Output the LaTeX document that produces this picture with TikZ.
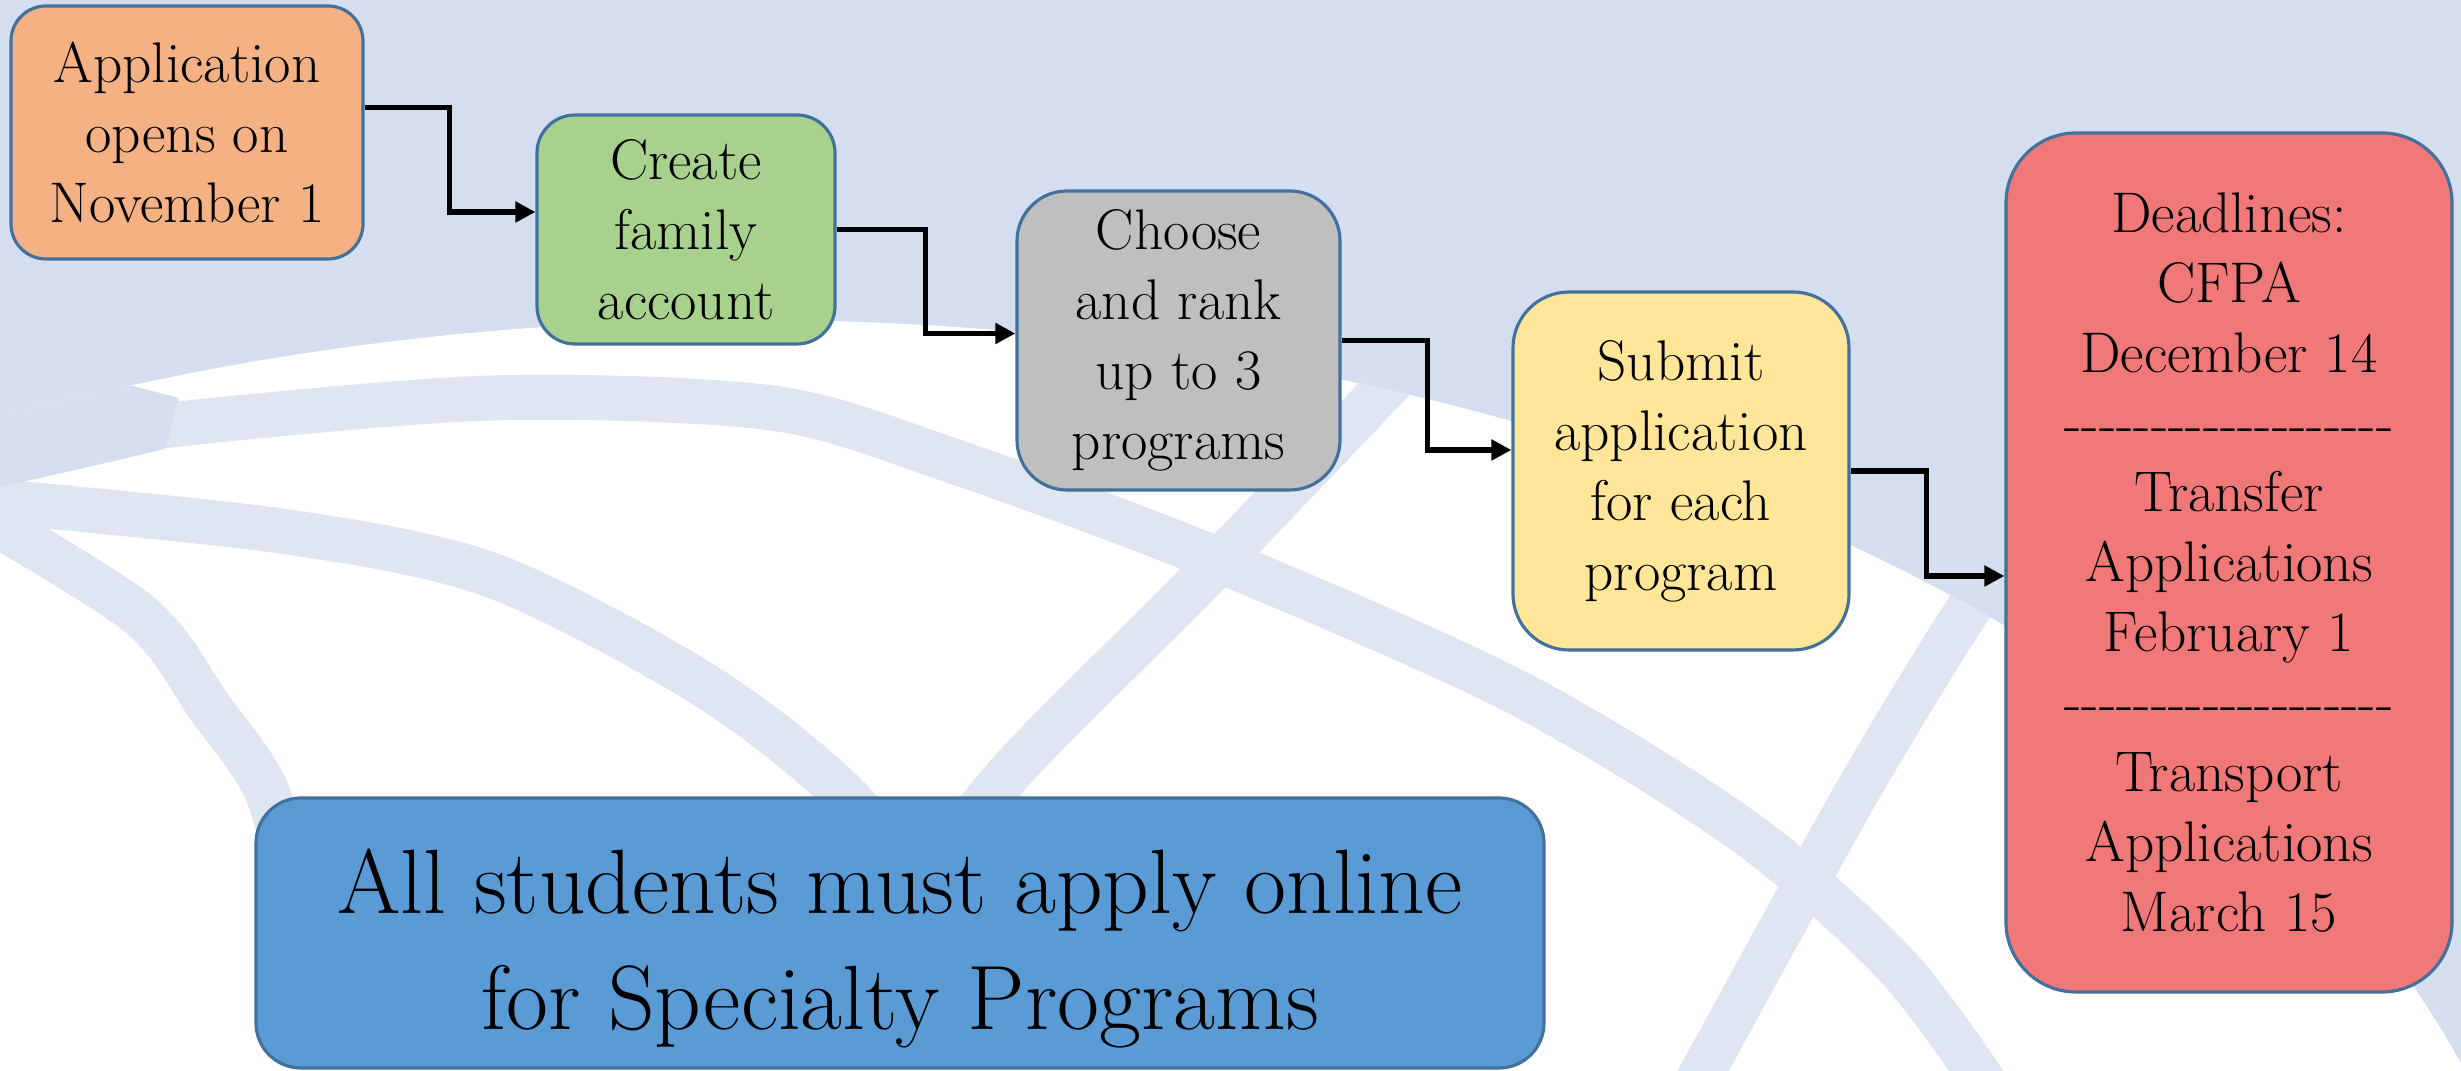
\documentclass[tikz,border=0pt]{standalone}
\usepackage{fontspec}
\usepackage{tikz}
\usetikzlibrary{arrows.meta, positioning, calc}

% Colours of the slide
\definecolor{bgcolor}{RGB}{213,222,238}
\definecolor{bandcolor}{RGB}{223,230,242}
\definecolor{edgecolor}{RGB}{65,113,156}
\definecolor{opencolor}{RGB}{244,177,131}
\definecolor{accountcolor}{RGB}{169,209,142}
\definecolor{choosecolor}{RGB}{191,191,191}
\definecolor{submitcolor}{RGB}{255,230,153}
\definecolor{deadlinecolor}{RGB}{240,120,120}
\definecolor{onlinecolor}{RGB}{91,155,213}

% row of single hyphens (no en-dash ligature)
\newcommand{\dashrow}{-{}-{}-{}-{}-{}-{}-{}-{}-{}-{}-{}-{}-{}-{}-{}-{}-{}-{}-{}}

\begin{document}
\begin{tikzpicture}[
    stage/.style={rectangle, draw=edgecolor, line width=0.9pt, align=center, inner sep=0pt, font=\fontsize{16.3}{19.9}\selectfont},
    arrow/.style={-{Triangle[length=2mm, width=2mm]}, line width=1.5pt, black},
    band/.style={draw=bandcolor, line width=4.5mm}
]

% Background with globe arcs
\useasboundingbox (0,0) rectangle (24.61,10.71);
\fill[bgcolor] (0,0) rectangle (24.61,10.71);
\begin{scope}
    \clip (0,0) rectangle (24.61,10.71);
    \fill[white] (7.5,-3.29) ellipse (18 and 10.8);
    \clip (7.5,-3.29) ellipse (18 and 10.8);
    \draw[band] plot[smooth] coordinates {(1.0,6.3) (1.7,6.46) (4.91,6.73) (7.72,6.63) (9.5,6.11) (12.06,5.16) (15.12,3.81) (17.42,2.41) (18.95,1.07) (19.9,-0.2)};
    \draw[band] plot[smooth] coordinates {(-0.3,5.72) (2.81,5.40) (4.91,4.96) (7.01,3.88) (8.42,2.79) (9.5,1.5)};
    \draw[band] plot[smooth] coordinates {(-0.3,5.62) (1.4,4.56) (2.1,3.63) (2.67,2.79) (3.0,1.5)};
    \draw[band] plot[smooth] coordinates {(14.3,7.3) (12.06,4.96) (10.15,3.04) (9.0,1.6)};
    \draw[band] plot[smooth] coordinates {(20.3,5.4) (19.71,4.66) (18.57,2.79) (17.03,0) (16.9,-0.2)};
    % left corner stays plain
    \fill[bgcolor] (0,7.2) -- (1.79,6.73) -- (1.65,6.22) .. controls (0.8,6.02) .. (0,5.84) -- cycle;
\end{scope}

% Steps
\node[stage, fill=opencolor, minimum width=3.52cm, minimum height=2.53cm, rounded corners=3.5mm] (open) at (1.87,9.385) {Application\\opens on\\November 1};

\node[stage, fill=accountcolor, minimum width=2.98cm, minimum height=2.29cm, rounded corners=3.8mm] (account) at (6.86,8.415) {Create\\family\\account};

\node[stage, fill=choosecolor, minimum width=3.23cm, minimum height=2.99cm, rounded corners=5mm] (choose) at (11.785,7.305) {Choose\\and rank\\up to 3\\programs};

\node[stage, fill=submitcolor, minimum width=3.36cm, minimum height=3.58cm, rounded corners=5.6mm] (submit) at (16.81,6.0) {Submit\\application\\for each\\program};

\node[stage, fill=deadlinecolor, minimum width=4.46cm, minimum height=8.59cm, rounded corners=7mm] (deadline) at (22.29,5.085) {Deadlines:\\CFPA\\December 14\\\dashrow\\Transfer\\Applications\\February 1\\\dashrow\\Transport\\Applications\\March 15};

% Bottom note
\node[stage, fill=onlinecolor, minimum width=12.88cm, minimum height=2.70cm, rounded corners=4.5mm, font=\fontsize{26}{33}\selectfont] (online) at (9.0,1.38) {\rule{0pt}{0.95cm}All students must apply online\\for Specialty Programs};

% Elbow arrows
\draw[arrow] ([yshift=2.5mm]open.east) -- ++(0.85,0) |- ([yshift=1.75mm]account.west);
\draw[arrow] (account.east) -- ++(0.89,0) |- ([yshift=0.7mm]choose.west);
\draw[arrow] (choose.east) -- ++(0.86,0) |- ([yshift=2.1mm]submit.west);
\draw[arrow] (submit.east) -- ++(0.76,0) |- ([yshift=-1.35mm]deadline.west);

\end{tikzpicture}
\end{document}
